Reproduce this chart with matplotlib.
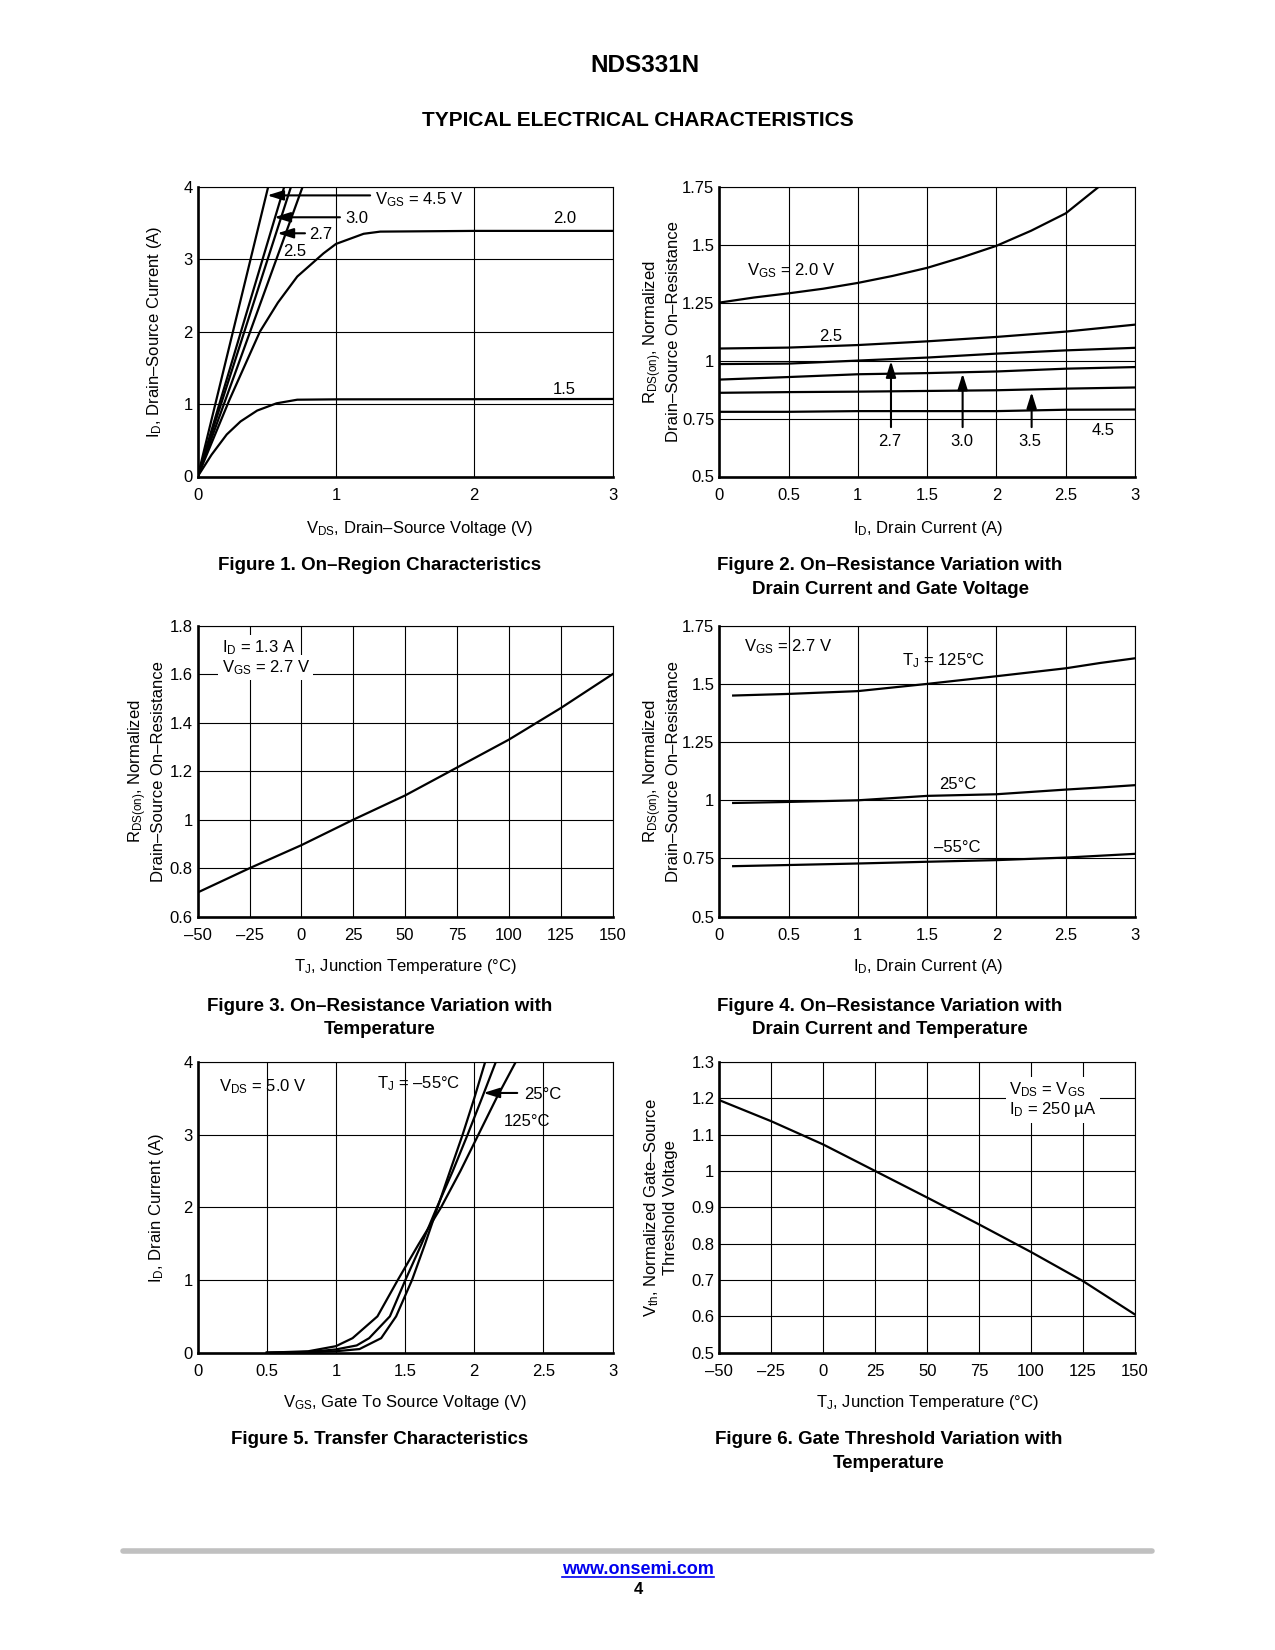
import matplotlib
matplotlib.use('Agg')
import matplotlib.pyplot as plt
from matplotlib.lines import Line2D

plt.rcParams['font.family'] = ['Liberation Sans', 'DejaVu Sans']
plt.rcParams['mathtext.fontset'] = 'custom'
plt.rcParams['mathtext.rm'] = 'Liberation Sans'
plt.rcParams['mathtext.it'] = 'Liberation Sans:italic'
plt.rcParams['mathtext.bf'] = 'Liberation Sans:bold'
plt.rcParams['mathtext.default'] = 'regular'

# ---------------- data ----------------
# Figure 1: On-region characteristics (VDS [V], ID [A])
f1_v_15 = [0, 0.1, 0.21, 0.31, 0.43, 0.57, 0.72, 1.0, 2.0, 3.0]
f1_i_15 = [0, 0.30, 0.58, 0.76, 0.91, 1.01, 1.06, 1.065, 1.067, 1.07]
f1_v_20 = [0, 0.23, 0.45, 0.58, 0.72, 0.91, 1.0, 1.2, 1.32, 2.0, 3.0]
f1_i_20 = [0, 1.06, 2.0, 2.40, 2.76, 3.08, 3.21, 3.35, 3.38, 3.39, 3.39]
f1_v_25 = [0, 0.759]
f1_i_25 = [0, 4.0]
f1_v_27 = [0, 0.675]
f1_i_27 = [0, 4.0]
f1_v_30 = [0, 0.626]
f1_i_30 = [0, 4.0]
f1_v_45 = [0, 0.51]
f1_i_45 = [0, 4.0]

# Figure 2: RDS(on) vs ID for several VGS
f2_id_20 = [0, 0.25, 0.5, 0.75, 1.0, 1.25, 1.5, 1.75, 2.0, 2.25, 2.5, 2.75]
f2_r_20 = [1.25, 1.272, 1.29, 1.31, 1.335, 1.365, 1.40, 1.445, 1.495, 1.56, 1.635, 1.755]
f2_id = [0, 0.5, 1.0, 1.5, 2.0, 2.5, 3.0]
f2_r_25 = [1.052, 1.056, 1.067, 1.083, 1.102, 1.125, 1.155]
f2_r_27 = [0.985, 0.987, 1.0, 1.013, 1.03, 1.044, 1.055]
f2_r_30 = [0.918, 0.929, 0.941, 0.946, 0.953, 0.965, 0.972]
f2_r_35 = [0.861, 0.864, 0.866, 0.869, 0.872, 0.879, 0.884]
f2_r_45 = [0.779, 0.779, 0.782, 0.782, 0.782, 0.788, 0.789]

# Figure 3: RDS(on) vs TJ
f3_t = [-50, -25, 0, 25, 50, 75, 100, 125, 150]
f3_r = [0.70, 0.80, 0.895, 1.0, 1.10, 1.215, 1.33, 1.46, 1.60]

# Figure 4: RDS(on) vs ID for several TJ
f4_id = [0.1, 0.5, 1.0, 1.5, 2.0, 2.5, 2.75, 3.0]
f4_r_125 = [1.45, 1.457, 1.469, 1.50, 1.533, 1.567, 1.59, 1.61]
f4_r_25 = [0.9885, 0.993, 1.0, 1.019, 1.026, 1.046, 1.055, 1.065]
f4_r_m55 = [0.717, 0.722, 0.7285, 0.736, 0.743, 0.754, 0.762, 0.77]

# Figure 5: transfer characteristics (VGS [V], ID [A])
f5_v_125 = [0.5, 0.8, 1.0, 1.12, 1.30, 1.447, 1.60, 1.76, 1.90, 2.03, 2.16, 2.30]
f5_i_125 = [0, 0.02, 0.09, 0.2, 0.5, 1.0, 1.5, 2.0, 2.5, 3.0, 3.5, 4.0]
f5_v_25 = [0.5, 0.8, 1.0, 1.15, 1.24, 1.39, 1.502, 1.62, 1.73, 1.845, 1.952, 2.055, 2.156]
f5_i_25 = [0, 0.01, 0.045, 0.1, 0.2, 0.5, 1.0, 1.5, 2.0, 2.5, 3.0, 3.5, 4.0]
f5_v_m55 = [0.5, 0.8, 1.0, 1.17, 1.327, 1.435, 1.55, 1.645, 1.735, 1.825, 1.916, 2.0, 2.079]
f5_i_m55 = [0, 0.005, 0.02, 0.05, 0.2, 0.5, 1.0, 1.5, 2.0, 2.5, 3.0, 3.5, 4.0]

# Figure 6: Vth vs TJ
f6_t = [-50, -25, 0, 25, 50, 75, 100, 125, 150]
f6_v = [1.195, 1.137, 1.073, 1.0, 0.927, 0.853, 0.777, 0.697, 0.605]

# tick labels
tk_v3 = [0, 1, 2, 3]
tk_v3_lbl = ['0', '1', '2', '3']
tk_i4 = [0, 1, 2, 3, 4]
tk_i4_lbl = ['0', '1', '2', '3', '4']
tk_half3 = [0, 0.5, 1, 1.5, 2, 2.5, 3]
tk_half3_lbl = ['0', '0.5', '1', '1.5', '2', '2.5', '3']
tk_r175 = [0.5, 0.75, 1.0, 1.25, 1.5, 1.75]
tk_r175_lbl = ['0.5', '0.75', '1', '1.25', '1.5', '1.75']
tk_temp = [-50, -25, 0, 25, 50, 75, 100, 125, 150]
tk_temp_lbl = ['\u201350', '\u201325', '0', '25', '50', '75', '100', '125', '150']
tk_r18 = [0.6, 0.8, 1.0, 1.2, 1.4, 1.6, 1.8]
tk_r18_lbl = ['0.6', '0.8', '1', '1.2', '1.4', '1.6', '1.8']
tk_vth = [0.5, 0.6, 0.7, 0.8, 0.9, 1.0, 1.1, 1.2, 1.3]
tk_vth_lbl = ['0.5', '0.6', '0.7', '0.8', '0.9', '1', '1.1', '1.2', '1.3']

# ---------------- layout ----------------
W, H = 1275, 1650
fig = plt.figure(figsize=(W / 100, H / 100), dpi=100)
fig.patch.set_facecolor('white')


def fx(px):
    return px / W


def fy(py):
    return 1 - py / H


COLX = [(197.7, 612.5), (719.3, 1135.0)]
ROWY = [(186.7, 476.5), (625.7, 916.7), (1062.0, 1352.7)]


def make_ax(col, row):
    x0, x1 = COLX[col]
    y0, y1 = ROWY[row]
    return fig.add_axes([fx(x0), fy(y1), (x1 - x0) / W, (y1 - y0) / H])


LW_CURVE = 1.6
FS = 12


def setup(ax, xlim, ylim, xt, xtl, yt, ytl):
    ax.set_xlim(*xlim)
    ax.set_ylim(*ylim)
    ax.set_xticks(xt)
    ax.set_xticklabels(xtl)
    ax.set_yticks(yt)
    ax.set_yticklabels(ytl)
    ax.tick_params(axis='x', length=0, labelsize=FS, pad=8)
    ax.tick_params(axis='y', length=0, labelsize=FS, pad=3.5)
    ax.grid(True, color='black', lw=0.8)
    ax.set_axisbelow(True)
    for s in ['left', 'bottom']:
        ax.spines[s].set_linewidth(1.9)
    for s in ['top', 'right']:
        ax.spines[s].set_linewidth(0.8)


def arrow(ax, tail, tip):
    ax.annotate('', xy=tip, xytext=tail,
                arrowprops=dict(arrowstyle='-|>,head_length=0.8,head_width=0.25',
                                mutation_scale=12, lw=1.5, color='black',
                                shrinkA=0, shrinkB=0))


def ylab(px, row, s):
    y0, y1 = ROWY[row]
    fig.text(fx(px), fy((y0 + y1) / 2), s, rotation=90, ha='center', va='center',
             fontsize=FS, multialignment='center', linespacing=1.15)


def xlab(px, py, s):
    fig.text(fx(px), fy(py), s, ha='center', va='center', fontsize=FS)


def caption(px, py, s):
    fig.text(fx(px), fy(py), s, ha='center', va='center', fontsize=13.5,
             fontweight='bold')


WHITE = dict(facecolor='white', edgecolor='none', pad=2.5)

# ---- Figure 1 ----
ax1 = make_ax(0, 0)
setup(ax1, (0, 3), (0, 4), tk_v3, tk_v3_lbl, tk_i4, tk_i4_lbl)
for v, i in [(f1_v_15, f1_i_15), (f1_v_20, f1_i_20), (f1_v_25, f1_i_25),
             (f1_v_27, f1_i_27), (f1_v_30, f1_i_30), (f1_v_45, f1_i_45)]:
    ax1.plot(v, i, color='black', lw=LW_CURVE)
ax1.text(1.282, 3.757, '$V_{GS}$ = 4.5 V', fontsize=FS, va='baseline', ha='left')
arrow(ax1, (1.247, 3.88), (0.503, 3.88))
ax1.text(1.065, 3.503, '3.0', fontsize=FS, va='baseline', ha='left')
arrow(ax1, (1.029, 3.578), (0.554, 3.578))
ax1.text(0.807, 3.274, '2.7', fontsize=FS, va='baseline', ha='left')
arrow(ax1, (0.776, 3.357), (0.576, 3.357))
ax1.text(0.615, 3.044, '2.5', fontsize=FS, va='baseline', ha='left')
ax1.text(2.569, 3.503, '2.0', fontsize=FS, va='baseline', ha='left')
ax1.text(2.569, 1.137, '1.5', fontsize=FS, va='baseline', ha='left')
ylab(155, 0, '$I_D$, Drain\u2013Source Current (A)')
xlab(420, 528, '$V_{DS}$, Drain\u2013Source Voltage (V)')
caption(380, 566, 'Figure 1. On\u2013Region Characteristics')

# ---- Figure 2 ----
ax2 = make_ax(1, 0)
setup(ax2, (0, 3), (0.5, 1.75), tk_half3, tk_half3_lbl, tk_r175, tk_r175_lbl)
ax2.plot(f2_id_20, f2_r_20, color='black', lw=LW_CURVE)
for r in [f2_r_25, f2_r_27, f2_r_30, f2_r_35, f2_r_45]:
    ax2.plot(f2_id, r, color='black', lw=LW_CURVE)
ax2.text(0.198, 1.369, '$V_{GS}$ = 2.0 V', fontsize=FS, va='baseline', ha='left')
ax2.text(0.722, 1.0835, '2.5', fontsize=FS, va='baseline', ha='left')
arrow(ax2, (1.239, 0.713), (1.239, 0.998))
arrow(ax2, (1.756, 0.713), (1.756, 0.944))
arrow(ax2, (2.254, 0.713), (2.254, 0.864))
ax2.text(1.227, 0.630, '2.7', fontsize=FS, va='baseline', ha='center')
ax2.text(1.749, 0.630, '3.0', fontsize=FS, va='baseline', ha='center')
ax2.text(2.242, 0.630, '3.5', fontsize=FS, va='baseline', ha='center')
ax2.text(2.772, 0.677, '4.5', fontsize=FS, va='baseline', ha='center')
ylab(661, 0, '$R_{DS(on)}$, Normalized\nDrain\u2013Source On\u2013Resistance')
xlab(928, 528, '$I_D$, Drain Current (A)')
caption(890, 566, 'Figure 2. On\u2013Resistance Variation with')
caption(890, 589, 'Drain Current and Gate Voltage')

# ---- Figure 3 ----
ax3 = make_ax(0, 1)
setup(ax3, (-50, 150), (0.6, 1.8), tk_temp, tk_temp_lbl, tk_r18, tk_r18_lbl)
ax3.plot(f3_t, f3_r, color='black', lw=LW_CURVE)
ax3.text(-38.45, 1.6915, '$I_D$ = 1.3 A', fontsize=FS, va='baseline', ha='left', bbox=WHITE)
ax3.text(-38.45, 1.609, '$V_{GS}$ = 2.7 V', fontsize=FS, va='baseline', ha='left', bbox=WHITE)
ylab(146, 1, '$R_{DS(on)}$, Normalized\nDrain\u2013Source On\u2013Resistance')
xlab(405, 967, '$T_J$, Junction Temperature (\u00b0C)')
caption(380, 1006, 'Figure 3. On\u2013Resistance Variation with')
caption(380, 1029, 'Temperature')

# ---- Figure 4 ----
ax4 = make_ax(1, 1)
setup(ax4, (0, 3), (0.5, 1.75), tk_half3, tk_half3_lbl, tk_r175, tk_r175_lbl)
for r in [f4_r_125, f4_r_25, f4_r_m55]:
    ax4.plot(f4_id, r, color='black', lw=LW_CURVE)
ax4.text(0.179, 1.641, '$V_{GS}$ = 2.7 V', fontsize=FS, va='baseline', ha='left')
ax4.text(1.617, 1.581, '$T_J$ = 125\u00b0C', fontsize=FS, va='baseline', ha='center')
ax4.text(1.72, 1.047, '25\u00b0C', fontsize=FS, va='baseline', ha='center')
ax4.text(1.72, 0.776, '\u201355\u00b0C', fontsize=FS, va='baseline', ha='center')
ylab(661, 1, '$R_{DS(on)}$, Normalized\nDrain\u2013Source On\u2013Resistance')
xlab(928, 967, '$I_D$, Drain Current (A)')
caption(890, 1006, 'Figure 4. On\u2013Resistance Variation with')
caption(890, 1029, 'Drain Current and Temperature')

# ---- Figure 5 ----
ax5 = make_ax(0, 2)
setup(ax5, (0, 3), (0, 4), tk_half3, tk_half3_lbl, tk_i4, tk_i4_lbl)
for v, i in [(f5_v_125, f5_i_125), (f5_v_25, f5_i_25), (f5_v_m55, f5_i_m55)]:
    ax5.plot(v, i, color='black', lw=LW_CURVE)
ax5.text(0.156, 3.592, '$V_{DS}$ = 5.0 V', fontsize=FS, va='baseline', ha='left')
ax5.text(1.295, 3.643, '$T_J$ = \u201355\u00b0C', fontsize=FS, va='baseline', ha='left')
ax5.text(2.36, 3.491, '25\u00b0C', fontsize=FS, va='baseline', ha='left')
arrow(ax5, (2.311, 3.574), (2.066, 3.574))
ax5.text(2.216, 3.122, '125\u00b0C', fontsize=FS, va='baseline', ha='left')
ylab(156, 2, '$I_D$, Drain Current (A)')
xlab(405, 1403, '$V_{GS}$, Gate To Source Voltage (V)')
caption(380, 1440, 'Figure 5. Transfer Characteristics')

# ---- Figure 6 ----
ax6 = make_ax(1, 2)
setup(ax6, (-50, 150), (0.5, 1.3), tk_temp, tk_temp_lbl, tk_vth, tk_vth_lbl)
ax6.plot(f6_t, f6_v, color='black', lw=LW_CURVE)
ax6.text(89.4, 1.211, '$V_{DS}$ = $V_{GS}$', fontsize=FS, va='baseline', ha='left', bbox=WHITE)
ax6.text(89.4, 1.156, '$I_D$ = 250 \u00b5A', fontsize=FS, va='baseline', ha='left', bbox=WHITE)
ylab(660, 2, '$V_{th}$, Normalized Gate\u2013Source\nThreshold Voltage')
xlab(927, 1403, '$T_J$, Junction Temperature (\u00b0C)')
caption(889, 1440, 'Figure 6. Gate Threshold Variation with')
caption(889, 1463, 'Temperature')

# ---- page header / footer ----
fig.text(fx(645), fy(65), 'NDS331N', ha='center', va='center', fontsize=17.5, fontweight='bold')
fig.text(fx(638), fy(121), 'TYPICAL ELECTRICAL CHARACTERISTICS', ha='center', va='center',
         fontsize=15, fontweight='bold')
fig.add_artist(Line2D([fx(123), fx(1152)], [fy(1551), fy(1551)], color='#c0c0c0', lw=4,
                      solid_capstyle='round'))
url = fig.text(fx(638), fy(1569), 'www.onsemi.com', ha='center', va='center', fontsize=13,
               fontweight='bold', color='#0000ee')
fig.text(fx(638), fy(1589), '4', ha='center', va='center', fontsize=12, fontweight='bold')

fig.canvas.draw()
bb = url.get_window_extent()
uy = bb.y0 + 1
fig.add_artist(Line2D([bb.x0 / W, bb.x1 / W], [uy / H, uy / H], color='#0000ee', lw=1.2))

fig.savefig('out.png', dpi=100, facecolor='white')
